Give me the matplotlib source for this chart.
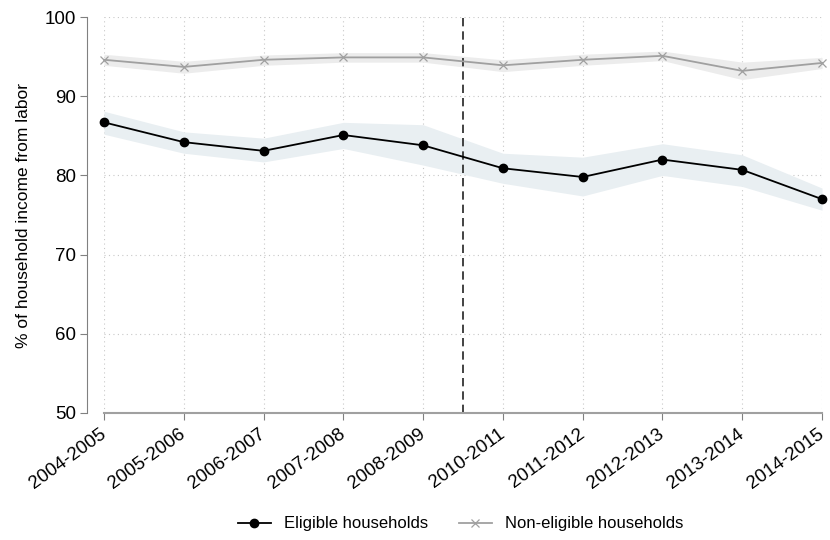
import numpy as np
import matplotlib.pyplot as plt

plt.rcParams['font.family'] = ['Liberation Sans', 'DejaVu Sans']

periods = ['2004-2005', '2005-2006', '2006-2007', '2007-2008', '2008-2009',
           '2010-2011', '2011-2012', '2012-2013', '2013-2014', '2014-2015']

eligible = [86.7, 84.2, 83.1, 85.1, 83.8, 80.9, 79.8, 82.0, 80.7, 77.0]
eligible_lo = [85.2, 82.8, 81.7, 83.4, 81.3, 79.0, 77.4, 80.0, 78.6, 75.6]
eligible_hi = [88.1, 85.5, 84.7, 86.7, 86.4, 82.8, 82.3, 84.0, 82.6, 78.4]

non_eligible = [94.6, 93.7, 94.6, 94.9, 94.9, 93.9, 94.6, 95.1, 93.2, 94.2]
non_eligible_lo = [93.9, 92.9, 93.9, 94.3, 94.3, 93.1, 93.9, 94.5, 92.1, 93.5]
non_eligible_hi = [95.3, 94.4, 95.2, 95.5, 95.5, 94.6, 95.3, 95.7, 94.3, 94.9]

x = np.arange(len(periods))

fig = plt.figure(figsize=(8.3, 5.4), dpi=100)
ax = fig.add_axes([0.1253, 0.2352, 0.8651, 0.7333])

ax.fill_between(x, non_eligible_lo, non_eligible_hi, color='#ececec', lw=0, zorder=1)
ax.fill_between(x, eligible_lo, eligible_hi, color='#e9eff2', lw=0, zorder=1)

ax.plot(x, non_eligible, color='#a0a0a0', lw=1.3, marker='x', ms=6, mew=0.9,
        label='Non-eligible households', zorder=3, clip_on=False)
ax.plot(x, eligible, color='black', lw=1.3, marker='o', ms=6,
        label='Eligible households', zorder=4, clip_on=False)

# policy break
ax.axvline(4.5, color='#222222', lw=1.2, ls=(0, (5, 3)), zorder=2)

ax.set_xlim(0, 9)
ax.set_ylim(50, 100)
ax.set_yticks(range(50, 101, 10))
ax.set_xticks(x)
ax.set_xticklabels(periods, rotation=36, ha='right', va='center',
                   rotation_mode='anchor')
ax.grid(True, ls=(0, (1, 3)), color='#c8c8c8', lw=0.8)
ax.set_axisbelow(True)

for s in ['top', 'right']:
    ax.spines[s].set_visible(False)
ax.spines['left'].set_position(('outward', 12))
ax.spines['left'].set_color('#808080')
ax.spines['bottom'].set_color('#a0a0a0')
ax.spines['bottom'].set_linewidth(1.5)
ax.tick_params(axis='both', labelsize=13.5, color='#808080', length=5, pad=3)
ax.tick_params(axis='x', pad=9)

ax.set_ylabel('% of household income from labor', fontsize=12.5, labelpad=10)

handles, labels = ax.get_legend_handles_labels()
fig.legend(handles[::-1], labels[::-1], loc='lower center', ncol=2,
           bbox_to_anchor=(0.555, -0.012), frameon=False, fontsize=12,
           handlelength=2.0, columnspacing=1.8)

fig.savefig('out.png', dpi=100)
